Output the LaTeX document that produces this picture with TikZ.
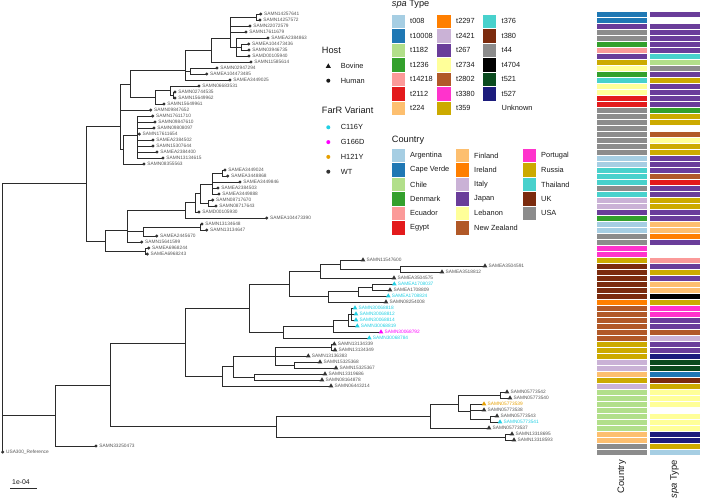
\documentclass[tikz,border=0pt]{standalone}
\usepackage{fontspec}
\setmainfont{Liberation Sans}
\usetikzlibrary{shapes.geometric}
\pgfdeclarelayer{bg}
\pgfsetlayers{bg,main}
\definecolor{cAR}{HTML}{A6CEE3}
\definecolor{cCV}{HTML}{1F78B4}
\definecolor{cCL}{HTML}{B2DF8A}
\definecolor{cDK}{HTML}{33A02C}
\definecolor{cEC}{HTML}{FB9A99}
\definecolor{cEG}{HTML}{E31A1C}
\definecolor{cFI}{HTML}{FDBF6F}
\definecolor{cIE}{HTML}{FF7F00}
\definecolor{cIT}{HTML}{CAB2D6}
\definecolor{cJP}{HTML}{6A3D9A}
\definecolor{cLB}{HTML}{FFFF99}
\definecolor{cNZ}{HTML}{B15928}
\definecolor{cPT}{HTML}{FF33CC}
\definecolor{cRU}{HTML}{CCAA00}
\definecolor{cTH}{HTML}{48D1CC}
\definecolor{cUK}{HTML}{7B2B0E}
\definecolor{cUS}{HTML}{8C8C8C}
\definecolor{cBK}{HTML}{000000}
\definecolor{cDG}{HTML}{0A4A1E}
\definecolor{cNV}{HTML}{1C1C7C}
\definecolor{cWH}{HTML}{FFFFFF}
\definecolor{fcy}{HTML}{22CFE3}
\definecolor{fmg}{HTML}{FF00FF}
\definecolor{for}{HTML}{E69F00}
\definecolor{wtcol}{HTML}{333333}
\definecolor{labcol}{HTML}{555555}
\definecolor{legcol}{HTML}{1A1A1A}
\definecolor{treecol}{HTML}{2B2B2B}

\newcommand{\leafH}[4]{%
  \coordinate (#1) at (#2,{14+6*#3});
  \node[hdot] (#1m) at (#1) {};
  \node[tiplab, text=labcol] (#1t) at ([xshift=3.2pt]#1) {#4};
}
\newcommand{\leafB}[6]{%
  \coordinate (#1) at (#2,{14+6*#3});
  \node[btri, fill=#5] (#1m) at (#1) {};
  \node[tiplab, text=#6] (#1t) at ([xshift=3.4pt]#1) {#4};
}

\begin{document}
\begin{tikzpicture}[x=1pt,y=-1pt,
  br/.style={draw=treecol, line width=0.75pt},
  hdot/.style={circle, fill=wtcol, draw=none, inner sep=0pt, minimum size=3.4pt},
  btri/.style={regular polygon, regular polygon sides=3, draw=none, inner sep=0pt, minimum size=5.4pt},
  tiplab/.style={anchor=west, inner sep=0pt, font=\fontsize{4.8}{5.5}\selectfont},
  lgl/.style={anchor=west, inner sep=0pt, text=legcol, font=\fontsize{7.4}{9}\selectfont},
  ttl/.style={anchor=west, inner sep=0pt, text=legcol, font=\fontsize{9.2}{11}\selectfont},
  cell/.style={draw=white, line width=0.4pt},
  sw/.style={draw=white, line width=0.6pt}]
\path[use as bounding box] (0,0) rectangle (701,498);

% ---------------- leaves ----------------
\leafH{l0}{260.7}{0}{SAMN14257641}
\leafH{l1}{260}{1}{SAMN14257572}
\leafH{l2}{250}{2}{SAMN22072579}
\leafH{l3}{246}{3}{SAMN17611679}
\leafH{l4}{268}{4}{SAMEA2384863}
\leafH{l5}{248.7}{5}{SAMEA104473436}
\leafH{l6}{249}{6}{SAMN03946735}
\leafH{l7}{249}{7}{SAMD00105940}
\leafH{l8}{251}{8}{SAMN11585614}
\leafH{l9}{217}{9}{SAMN02947294}
\leafH{l10}{206.7}{10}{SAMEA104473485}
\leafH{l11}{230}{11}{SAMEA3449025}
\leafH{l12}{199}{12}{SAMN06683531}
\leafH{l13}{175}{13}{SAMN02744535}
\leafH{l14}{175}{14}{SAMN15649962}
\leafH{l15}{164}{15}{SAMN15649961}
\leafH{l16}{150.7}{16}{SAMN09847652}
\leafH{l17}{152.7}{17}{SAMN17611710}
\leafH{l18}{155}{18}{SAMN09847610}
\leafH{l19}{154}{19}{SAMN09808097}
\leafH{l20}{139.3}{20}{SAMN17611654}
\leafH{l21}{153}{21}{SAMEA2384502}
\leafH{l22}{153}{22}{SAMN15307644}
\leafH{l23}{157}{23}{SAMEA2384400}
\leafH{l24}{163}{24}{SAMN13134615}
\leafH{l25}{144}{25}{SAMN08355563}
\leafH{l26}{225}{26}{SAMEA3449024}
\leafH{l27}{227.7}{27}{SAMEA3448868}
\leafH{l28}{240}{28}{SAMEA3449846}
\leafH{l29}{218}{29}{SAMEA2384503}
\leafH{l30}{219}{30}{SAMEA3449888}
\leafH{l31}{212.7}{31}{SAMN08717670}
\leafH{l32}{216}{32}{SAMN08717643}
\leafH{l33}{199}{33}{SAMD00105930}
\leafH{l34}{266.7}{34}{SAMEA104473390}
\leafH{l35}{202}{35}{SAMN13134648}
\leafH{l36}{206.7}{36}{SAMN13134647}
\leafH{l37}{156.7}{37}{SAMEA2445670}
\leafH{l38}{141.7}{38}{SAMN15641599}
\leafH{l39}{148.7}{39}{SAMEA6968244}
\leafH{l40}{147.3}{40}{SAMEA6968243}
\leafB{l41}{363}{41}{SAMN11547600}{wtcol}{labcol}
\leafB{l42}{485}{42}{SAMEA3504591}{wtcol}{labcol}
\leafB{l43}{442}{43}{SAMEA3518812}{wtcol}{labcol}
\leafB{l44}{394}{44}{SAMEA3504575}{wtcol}{labcol}
\leafB{l45}{394.3}{45}{SAMEA1708037}{fcy}{fcy}
\leafB{l46}{390}{46}{SAMEA1708809}{wtcol}{labcol}
\leafB{l47}{388.3}{47}{SAMEA1708824}{fcy}{fcy}
\leafB{l48}{386}{48}{SAMN08254008}{wtcol}{labcol}
\leafB{l49}{355}{49}{SAMN30068818}{fcy}{fcy}
\leafB{l50}{356}{50}{SAMN30068812}{fcy}{fcy}
\leafB{l51}{356}{51}{SAMN30068814}{fcy}{fcy}
\leafB{l52}{357.3}{52}{SAMN30068819}{fcy}{fcy}
\leafB{l53}{381}{53}{SAMN30068792}{fmg}{fmg}
\leafB{l54}{369.3}{54}{SAMN30068784}{fcy}{fcy}
\leafB{l55}{334.3}{55}{SAMN13134339}{wtcol}{labcol}
\leafB{l56}{335}{56}{SAMN13134349}{wtcol}{labcol}
\leafB{l57}{308.3}{57}{SAMN13136383}{wtcol}{labcol}
\leafB{l58}{320}{58}{SAMN15325368}{wtcol}{labcol}
\leafB{l59}{336}{59}{SAMN15325367}{wtcol}{labcol}
\leafB{l60}{325}{60}{SAMN13319686}{wtcol}{labcol}
\leafB{l61}{322}{61}{SAMN08164878}{wtcol}{labcol}
\leafB{l62}{331}{62}{SAMN06443214}{wtcol}{labcol}
\leafB{l63}{507}{63}{SAMN05773542}{wtcol}{labcol}
\leafB{l64}{510}{64}{SAMN05773540}{wtcol}{labcol}
\leafB{l65}{484}{65}{SAMN05773539}{for}{for}
\leafB{l66}{484}{66}{SAMN05773538}{wtcol}{labcol}
\leafB{l67}{497}{67}{SAMN05773543}{wtcol}{labcol}
\leafB{l68}{500}{68}{SAMN05773541}{fcy}{fcy}
\leafB{l69}{489}{69}{SAMN05773537}{wtcol}{labcol}
\leafB{l70}{512}{70}{SAMN13318695}{wtcol}{labcol}
\leafB{l71}{514}{71}{SAMN13318593}{wtcol}{labcol}
\leafH{l72}{96}{72}{SAMN33250473}
\leafH{l73}{2.7}{73}{USA300\_Reference}

% ---------------- internal nodes ----------------
\coordinate (nP01) at (256.7,17);
\coordinate (nS1b) at (241,47);
\coordinate (nS1) at (236,47);
\coordinate (nA) at (230,38);
\coordinate (nB) at (211.7,50);
\coordinate (nP910) at (190,71);
\coordinate (nC) at (185,70);
\coordinate (nP1314) at (173,95);
\coordinate (nE) at (170,90);
\coordinate (N2) at (155,97);
\coordinate (T) at (130,84.5);
\coordinate (Q) at (137.5,135);
\coordinate (K) at (123.3,149.3);
\coordinate (R1) at (120.7,126.7);
\coordinate (nP2627) at (222.7,173);
\coordinate (nG) at (212.7,184);
\coordinate (nP3132) at (208.3,203);
\coordinate (nH) at (200,193.5);
\coordinate (nI) at (195,202.75);
\coordinate (nJ) at (185,210.4);
\coordinate (nP3536) at (200.7,227);
\coordinate (nL) at (143.3,231.5);
\coordinate (M) at (127.7,230);
\coordinate (nP3940) at (145,251);
\coordinate (R2) at (105,241.7);
\coordinate (U) at (86,183.3);
\coordinate (root) at (2.7,183.3);
\coordinate (V) at (55,415.4);
\coordinate (W) at (110,384.9);
\coordinate (X) at (185,343);
\coordinate (Y) at (249,308.3);
\coordinate (Y1) at (289,284);
\coordinate (Y1a) at (320,271.25);
\coordinate (n4143) at (340,264.5);
\coordinate (nP4243) at (400,269);
\coordinate (Y1b) at (328.3,296.75);
\coordinate (Y1c) at (358,291.5);
\coordinate (nP4546) at (372,287);
\coordinate (Y2) at (283,332);
\coordinate (Y2a) at (333.3,326);
\coordinate (Y2b) at (348.3,320);
\coordinate (Y2c) at (351.7,314);
\coordinate (Z) at (222.7,376.4);
\coordinate (Z1) at (233,366.75);
\coordinate (Z1a) at (275,356.5);
\coordinate (A1) at (331.7,347);
\coordinate (Z1a2) at (294,365);
\coordinate (Z1b) at (254,377);
\coordinate (BG) at (276.7,426.75);
\coordinate (BG1) at (430,416.5);
\coordinate (BGa) at (458,404);
\coordinate (nP6364) at (500,395);
\coordinate (BGb) at (470,411.5);
\coordinate (nP6768) at (490,419);
\coordinate (BG2) at (505,437);

% ---------------- branches ----------------
\begin{pgfonlayer}{bg}
\foreach \p/\c in {nP01/l0,nP01/l1,nS1b/l5,nS1b/l6,nS1/l4,nS1/nS1b,nS1/l7,
  nA/nP01,nA/l2,nA/l3,nA/nS1,nB/nA,nB/l8,nP910/l9,nP910/l10,nC/nB,nC/nP910,nC/l11,
  nP1314/l13,nP1314/l14,nE/l12,nE/nP1314,N2/nE,N2/l15,T/nC,T/N2,
  Q/l17,Q/l18,Q/l19,Q/l20,Q/l21,Q/l22,Q/l23,Q/l24,K/Q,K/l25,R1/T,R1/l16,R1/K,
  nP2627/l26,nP2627/l27,nG/nP2627,nG/l28,nG/l29,nG/l30,nP3132/l31,nP3132/l32,
  nH/nG,nH/nP3132,nI/nH,nI/l33,nJ/nI,nJ/l34,nP3536/l35,nP3536/l36,nL/nP3536,nL/l37,
  M/nJ,M/nL,M/l38,nP3940/l39,nP3940/l40,R2/M,R2/nP3940,
  U/R1,U/R2,root/U,root/V,root/l73,V/W,V/l72,W/X,W/BG,X/Y,X/Z,Y/Y1,Y/Y2,
  Y1/Y1a,Y1/Y1b,Y1a/n4143,Y1a/l44,n4143/l41,n4143/nP4243,nP4243/l42,nP4243/l43,
  Y1b/Y1c,Y1b/l48,Y1c/nP4546,Y1c/l47,nP4546/l45,nP4546/l46,
  Y2/Y2a,Y2/l54,Y2a/Y2b,Y2a/l53,Y2b/Y2c,Y2b/l52,Y2c/l49,Y2c/l50,Y2c/l51,
  Z/Z1,Z/l62,Z1/Z1a,Z1/Z1b,Z1a/A1,Z1a/l57,Z1a/Z1a2,A1/l55,A1/l56,Z1a2/l58,Z1a2/l59,
  Z1b/l60,Z1b/l61,BG/BG1,BG/BG2,BG1/BGa,BG1/l69,BGa/nP6364,BGa/BGb,
  nP6364/l63,nP6364/l64,BGb/l65,BGb/l66,BGb/nP6768,nP6768/l67,nP6768/l68,
  BG2/l70,BG2/l71}
  \draw[br] (\p) |- (\c);
\end{pgfonlayer}

% ---------------- scale bar ----------------
\coordinate (sb1) at (10,488.3);
\coordinate (sb2) at (37.3,488.3);
\draw[br] (sb1) -- (sb2);
\node[inner sep=0pt, text=legcol, font=\fontsize{6.9}{8}\selectfont] (sbl) at (21,481.7) {1e-04};

% ---------------- heat-map strips ----------------
\foreach \c [count=\i from 0] in {cCV,cCV,cJP,cUS,cUS,cDK,cEC,cJP,cRU,cLB,cDK,cTH,cLB,cLB,cEG,cEG,
  cUS,cUS,cUS,cUS,cUS,cUS,cUS,cUS,cAR,cAR,cTH,cTH,cTH,cUS,cTH,cIT,cIT,cJP,cDK,cAR,cAR,cUS,cUS,
  cPT,cPT,cRU,cUK,cUK,cUK,cUK,cUK,cUK,cIE,cNZ,cNZ,cNZ,cNZ,cNZ,cNZ,cRU,cRU,cRU,cIT,cIT,cFI,cRU,cIT,
  cCL,cCL,cCL,cCL,cCL,cCL,cCL,cFI,cFI,cUS,cUS}
  \filldraw[cell, fill=\c] (596,{11+6*\i}) rectangle (647.3,{17+6*\i});
\foreach \c [count=\i from 0] in {cJP,cWH,cJP,cJP,cJP,cJP,cJP,cTH,cCL,cUS,cJP,cRU,cJP,cJP,cJP,cJP,
  cDK,cRU,cRU,cWH,cNZ,cLB,cRU,cRU,cJP,cJP,cJP,cNZ,cEG,cJP,cJP,cRU,cRU,cJP,cJP,cFI,cFI,cIE,cJP,
  cWH,cWH,cEC,cJP,cRU,cJP,cFI,cFI,cBK,cRU,cPT,cPT,cJP,cJP,cNZ,cIT,cJP,cJP,cNV,cDG,cDG,cCV,cUK,cRU,
  cLB,cLB,cLB,cWH,cLB,cLB,cLB,cNV,cNV,cRU,cAR}
  \filldraw[cell, fill=\c] (649.3,{11+6*\i}) rectangle (700,{17+6*\i});
\node[rotate=90, anchor=east, inner sep=0pt, text=legcol, font=\fontsize{9.4}{11}\selectfont] (axc) at (621.7,460) {Country};
\node[rotate=90, anchor=east, inner sep=0pt, text=legcol, font=\fontsize{9.4}{11}\selectfont] (axs) at (674.7,460) {\textit{spa} Type};

% ---------------- legends ----------------
\node[ttl] (hostT) at (321.7,50.7) {Host};
\node[btri, fill=legcol, minimum size=6pt] (hbm) at (328.3,66.4) {};
\node[lgl] (hbt) at (340.7,66) {Bovine};
\node[hdot, fill=legcol, minimum size=4pt] (hhm) at (328.3,80.7) {};
\node[lgl] (hht) at (340.7,80.7) {Human};

\node[ttl] (farT) at (321.7,110.7) {FarR Variant};
\foreach \c/\t [count=\k from 0] in {fcy/C116Y, fmg/G166D, for/H121Y, wtcol/WT} {
  \node[hdot, fill=\c, minimum size=4pt] (fm\k) at (328.3,{127.3+14.8*\k}) {};
  \node[lgl] (ft\k) at (340.7,{127.3+14.8*\k}) {\t};
}

\node[ttl] (spaT) at (391.7,4) {\textit{spa} Type};
\foreach \c/\t [count=\k from 0] in {cAR/t008, cCV/t10008, cCL/t1182, cDK/t1236, cEC/t14218, cEG/t2112, cFI/t224} {
  \filldraw[sw, fill=\c] (391,{14+14.5*\k}) rectangle ++(14.7,14.5);
  \node[lgl] (sa\k) at (410,{21.25+14.5*\k}) {\t};
}
\foreach \c/\t [count=\k from 0] in {cIE/t2297, cIT/t2421, cJP/t267, cLB/t2734, cNZ/t2802, cPT/t3380, cRU/t359} {
  \filldraw[sw, fill=\c] (436.7,{14+14.5*\k}) rectangle ++(14.7,14.5);
  \node[lgl] (sb\k) at (456,{21.25+14.5*\k}) {\t};
}
\foreach \c/\t [count=\k from 0] in {cTH/t376, cUK/t380, cUS/t44, cBK/t4704, cDG/t521, cNV/t527, cWH/Unknown} {
  \filldraw[sw, fill=\c] (482,{14+14.5*\k}) rectangle ++(14.7,14.5);
  \node[lgl] (sc\k) at (501.5,{21.25+14.5*\k}) {\t};
}

\node[ttl] (ctyT) at (391.7,140) {Country};
\foreach \c/\t [count=\k from 0] in {cAR/Argentina, cCV/Cape Verde, cCL/Chile, cDK/Denmark, cEC/Ecuador, cEG/Egypt} {
  \filldraw[sw, fill=\c] (391,{148.3+14.45*\k}) rectangle ++(14.7,14.45);
  \node[lgl] (ca\k) at (410,{155.5+14.45*\k}) {\t};
}
\foreach \c/\t [count=\k from 0] in {cFI/Finland, cIE/Ireland, cIT/Italy, cJP/Japan, cLB/Lebanon, cNZ/New Zealand} {
  \filldraw[sw, fill=\c] (455,{148.3+14.45*\k}) rectangle ++(14.7,14.45);
  \node[lgl] (cb\k) at (474,{155.5+14.45*\k}) {\t};
}
\foreach \c/\t [count=\k from 0] in {cPT/Portugal, cRU/Russia, cTH/Thailand, cUK/UK, cUS/USA} {
  \filldraw[sw, fill=\c] (522,{148.3+14.45*\k}) rectangle ++(14.7,14.45);
  \node[lgl] (cc\k) at (541,{155.5+14.45*\k}) {\t};
}
\end{tikzpicture}
\end{document}
